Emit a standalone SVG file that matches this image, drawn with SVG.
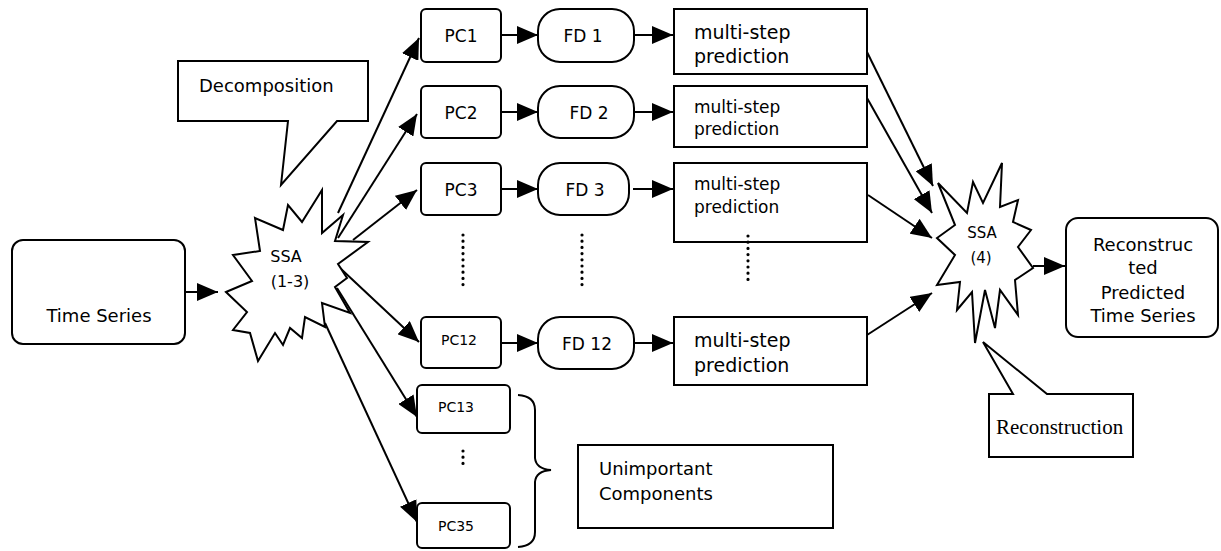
<svg xmlns="http://www.w3.org/2000/svg" width="1221" height="551" viewBox="0 0 1221 551">
<style>
.box{fill:#fff;stroke:#000;stroke-width:2}
.ln{fill:none;stroke:#000;stroke-width:2}
.t{font-family:"DejaVu Sans",Verdana,sans-serif;fill:#000}
.c{text-anchor:middle}
.dots{fill:none;stroke:#000;stroke-width:3.2;stroke-linecap:round;stroke-dasharray:0 6.2}
</style>
<defs>
<marker id="ah" markerUnits="userSpaceOnUse" markerWidth="21" markerHeight="18" refX="21" refY="9" orient="auto">
<path d="M0,0 L21,9 L0,18 z" fill="#000"/>
</marker>
</defs>
<rect width="1221" height="551" fill="#fff"/>

<g id="connectors">
<line class="ln" x1="185" y1="292" x2="218" y2="292" marker-end="url(#ah)"/>
<line class="ln" x1="338" y1="213" x2="419" y2="38" marker-end="url(#ah)"/>
<line class="ln" x1="338" y1="238" x2="417" y2="114" marker-end="url(#ah)"/>
<line class="ln" x1="353" y1="240" x2="417" y2="190" marker-end="url(#ah)"/>
<line class="ln" x1="340" y1="268" x2="419" y2="342" marker-end="url(#ah)"/>
<line class="ln" x1="337" y1="288" x2="417" y2="417" marker-end="url(#ah)"/>
<line class="ln" x1="325" y1="323" x2="417" y2="522" marker-end="url(#ah)"/>
<line class="ln" x1="501" y1="35" x2="538" y2="35" marker-end="url(#ah)"/>
<line class="ln" x1="501" y1="112" x2="538" y2="112" marker-end="url(#ah)"/>
<line class="ln" x1="501" y1="189" x2="538" y2="189" marker-end="url(#ah)"/>
<line class="ln" x1="501" y1="343" x2="538" y2="343" marker-end="url(#ah)"/>
<line class="ln" x1="634" y1="35" x2="673" y2="35" marker-end="url(#ah)"/>
<line class="ln" x1="634" y1="112" x2="673" y2="112" marker-end="url(#ah)"/>
<line class="ln" x1="633" y1="189" x2="673" y2="189" marker-end="url(#ah)"/>
<line class="ln" x1="634" y1="343" x2="673" y2="343" marker-end="url(#ah)"/>
<line class="ln" x1="867" y1="52" x2="933" y2="186" marker-end="url(#ah)"/>
<line class="ln" x1="867" y1="98" x2="932" y2="213" marker-end="url(#ah)"/>
<line class="ln" x1="868" y1="195" x2="932" y2="238" marker-end="url(#ah)"/>
<line class="ln" x1="867" y1="335" x2="932" y2="293" marker-end="url(#ah)"/>
<line class="ln" x1="1033" y1="266" x2="1065" y2="266" marker-end="url(#ah)"/>
</g>

<g id="time-series">
<rect class="box" x="12" y="240" width="173" height="104" rx="11"/>
<text class="t c" x="99" y="322" font-size="18">Time Series</text>
</g>

<g id="decomposition">
<polygon class="box" points="178,61 368,61 368,121 337,121 281,185 288,121 178,121"/>
<text class="t" x="199" y="92" font-size="18">Decomposition</text>
</g>

<g id="ssa1">
<polygon class="box" points="226,292 252,281 233,255 260,251 255,218 283,230 288,205 302,222 322,190 322,233 343,215 335,241 368,242 338,264 347,278 335,287 350,313 322,303 325,327 305,317 302,338 290,328 283,345 275,333 258,361 250,333 233,330 247,312"/>
<text class="t c" x="286" y="262" font-size="16">SSA</text>
<text class="t c" x="290" y="287" font-size="16">(1-3)</text>
</g>

<g id="pc1"><rect class="box" x="421" y="9" width="80" height="53" rx="5"/><text class="t c" x="461" y="42" font-size="17">PC1</text></g>
<g id="pc2"><rect class="box" x="421" y="86" width="80" height="52" rx="5"/><text class="t c" x="461" y="119" font-size="17">PC2</text></g>
<g id="pc3"><rect class="box" x="421" y="163" width="80" height="52" rx="5"/><text class="t c" x="461" y="196" font-size="17">PC3</text></g>
<g id="pc12"><rect class="box" x="421" y="317" width="80" height="51" rx="5"/><text class="t c" x="459" y="345" font-size="14">PC12</text></g>
<g id="pc13"><rect class="box" x="417" y="385" width="93" height="48" rx="5"/><text class="t c" x="456" y="412" font-size="14">PC13</text></g>
<g id="pc35"><rect class="box" x="417" y="503" width="93" height="45" rx="5"/><text class="t c" x="456" y="531" font-size="14">PC35</text></g>

<g id="fd1"><rect class="box" x="538" y="9" width="96" height="53" rx="22"/><text class="t c" x="583" y="42" font-size="17">FD 1</text></g>
<g id="fd2"><rect class="box" x="538" y="86" width="96" height="52" rx="22"/><text class="t c" x="589" y="119" font-size="17">FD 2</text></g>
<g id="fd3"><rect class="box" x="538" y="163" width="91" height="52" rx="22"/><text class="t c" x="585" y="196" font-size="17">FD 3</text></g>
<g id="fd12"><rect class="box" x="538" y="317" width="96" height="52" rx="22"/><text class="t c" x="587" y="350" font-size="17">FD 12</text></g>

<g id="msp1"><rect class="box" x="674" y="9" width="193" height="65"/><text class="t" x="694" y="39" font-size="19">multi-step</text><text class="t" x="694" y="63" font-size="19">prediction</text></g>
<g id="msp2"><rect class="box" x="674" y="86" width="193" height="61"/><text class="t" x="694" y="113" font-size="17">multi-step</text><text class="t" x="694" y="135" font-size="17">prediction</text></g>
<g id="msp3"><rect class="box" x="674" y="163" width="193" height="79"/><text class="t" x="694" y="190" font-size="17">multi-step</text><text class="t" x="694" y="213" font-size="17">prediction</text></g>
<g id="msp12"><rect class="box" x="674" y="317" width="193" height="68"/><text class="t" x="694" y="347" font-size="19">multi-step</text><text class="t" x="694" y="372" font-size="19">prediction</text></g>

<g id="ellipses">
<line class="dots" x1="463" y1="235" x2="463" y2="285"/>
<line class="dots" x1="582" y1="235" x2="582" y2="285"/>
<line class="dots" x1="748" y1="236" x2="748" y2="285"/>
<line class="dots" x1="463" y1="451" x2="463" y2="468"/>
</g>

<g id="brace">
<path class="ln" d="M518,395 Q535,396 535,410 L535,458 Q536,469 551,470 Q536,471 535,482 L535,532 Q535,546 518,547"/>
</g>

<g id="unimportant">
<rect class="box" x="578" y="445" width="255" height="83"/>
<text class="t" x="599" y="475" font-size="18">Unimportant</text>
<text class="t" x="599" y="500" font-size="18">Components</text>
</g>

<g id="ssa4">
<polygon class="box" points="938,183 967,213 973,182 983,203 1002,163 1000,207 1018,200 1013,222 1031,230 1018,247 1033,268 1015,280 1018,315 1000,290 995,328 985,290 975,343 972,292 957,310 960,282 937,285 955,255 937,238 955,225"/>
<text class="t c" x="982" y="238" font-size="15">SSA</text>
<text class="t c" x="981" y="263" font-size="15">(4)</text>
</g>

<g id="reconstructed">
<rect class="box" x="1066" y="218" width="152" height="119" rx="12"/>
<text class="t c" x="1143" y="251" font-size="18">Reconstruc</text>
<text class="t c" x="1143" y="274" font-size="18">ted</text>
<text class="t c" x="1143" y="299" font-size="18">Predicted</text>
<text class="t c" x="1143" y="322" font-size="18">Time Series</text>
</g>

<g id="reconstruction">
<polygon class="box" points="989,394 1013,394 983,342 1047,394 1133,394 1133,457 989,457"/>
<text x="996" y="434" font-size="21" font-family="'Liberation Serif','Times New Roman',serif">Reconstruction</text>
</g>
</svg>
